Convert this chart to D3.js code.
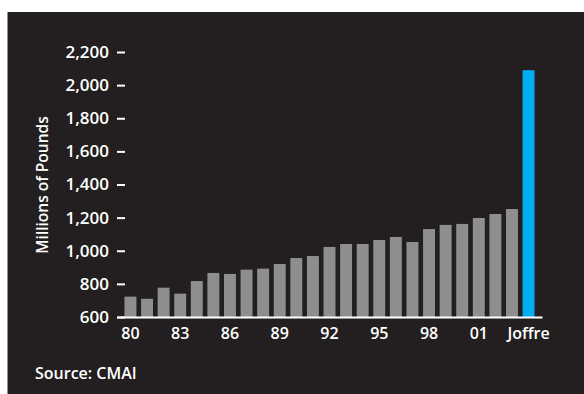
<!DOCTYPE html>
<html>
<head>
<meta charset="utf-8">
<script src="https://cdn.jsdelivr.net/npm/d3@7"></script>
<style>
  html, body { margin: 0; padding: 0; background: #ffffff; }
  svg { display: block; }
  text { font-family: "Open Sans", Lato, sans-serif; }
</style>
</head>
<body>
<svg id="chart" width="584" height="394"></svg>
<script>
// Annual capacity, 1980–2003, plus the Joffre plant (millions of pounds)
const years = ["80","81","82","83","84","85","86","87","88","89","90","91",
               "92","93","94","95","96","97","98","99","00","01","02","03"];
const capacity = [723,710,777,741,817,866,860,886,892,920,956,968,
                  1023,1041,1041,1065,1083,1053,1131,1156,1162,1198,1222,1252];
const joffreLabel = "Joffre";
const joffreValue = 2090;
const yTicks = [600,800,1000,1200,1400,1600,1800,2000,2200];
const sourceText = "Source: CMAI";
const yTitle = "Millions of Pounds";

const categories = years.concat([joffreLabel]);
const series = capacity.concat([joffreValue]);
const rows = categories.map((c, i) => ({ cat: c, value: series[i], highlight: c === joffreLabel }));

const svg = d3.select("#chart");
const W = 584, H = 394;

// dark panel
svg.append("rect")
  .attr("x", 7.5).attr("y", 12)
  .attr("width", W - 7.5).attr("height", H - 12)
  .attr("fill", "#231f20");

const x = d3.scaleBand()
  .domain(categories)
  .range([117, 542])
  .paddingInner(0.28)
  .paddingOuter(0.45);

const y = d3.scaleLinear()
  .domain([600, 2200])
  .range([317, 52]);

// bars
svg.append("g").selectAll("rect")
  .data(rows)
  .join("rect")
  .attr("x", d => x(d.cat))
  .attr("width", x.bandwidth())
  .attr("y", d => y(d.value))
  .attr("height", d => y(600) - y(d.value))
  .attr("fill", d => d.highlight ? "#00aeef" : "#8e8e90");

// y axis: short dashes to the right of the labels
const yAxis = svg.append("g")
  .attr("transform", "translate(117,0)")
  .call(d3.axisLeft(y)
    .tickValues(yTicks)
    .tickFormat(d3.format(","))
    .tickSizeInner(-8)
    .tickSizeOuter(0)
    .tickPadding(8));
yAxis.select(".domain").remove();
yAxis.selectAll(".tick line").attr("stroke", "#ffffff").attr("stroke-width", 2);
yAxis.selectAll(".tick text")
  .attr("fill", "#ffffff")
  .attr("font-size", 17)
  .attr("font-weight", 600);

// x axis with baseline
const xAxis = svg.append("g")
  .attr("transform", `translate(0,${y(600)})`)
  .call(d3.axisBottom(x)
    .tickValues(categories.filter((c, i) => i % 3 === 0))
    .tickSize(0)
    .tickPadding(11));
xAxis.select(".domain").attr("stroke", "#ffffff").attr("stroke-width", 2);
xAxis.selectAll(".tick text")
  .attr("fill", "#ffffff")
  .attr("font-size", 16)
  .attr("font-weight", 600);

// y axis title
svg.append("text")
  .attr("transform", "translate(48,185) rotate(-90)")
  .attr("text-anchor", "middle")
  .attr("fill", "#ffffff")
  .attr("font-size", 15.5)
  .attr("font-weight", 600)
  .text(yTitle);

// source note
svg.append("text")
  .attr("x", 35).attr("y", 379)
  .attr("fill", "#ffffff")
  .attr("font-size", 16)
  .attr("font-weight", 600)
  .text(sourceText);
</script>
</body>
</html>
